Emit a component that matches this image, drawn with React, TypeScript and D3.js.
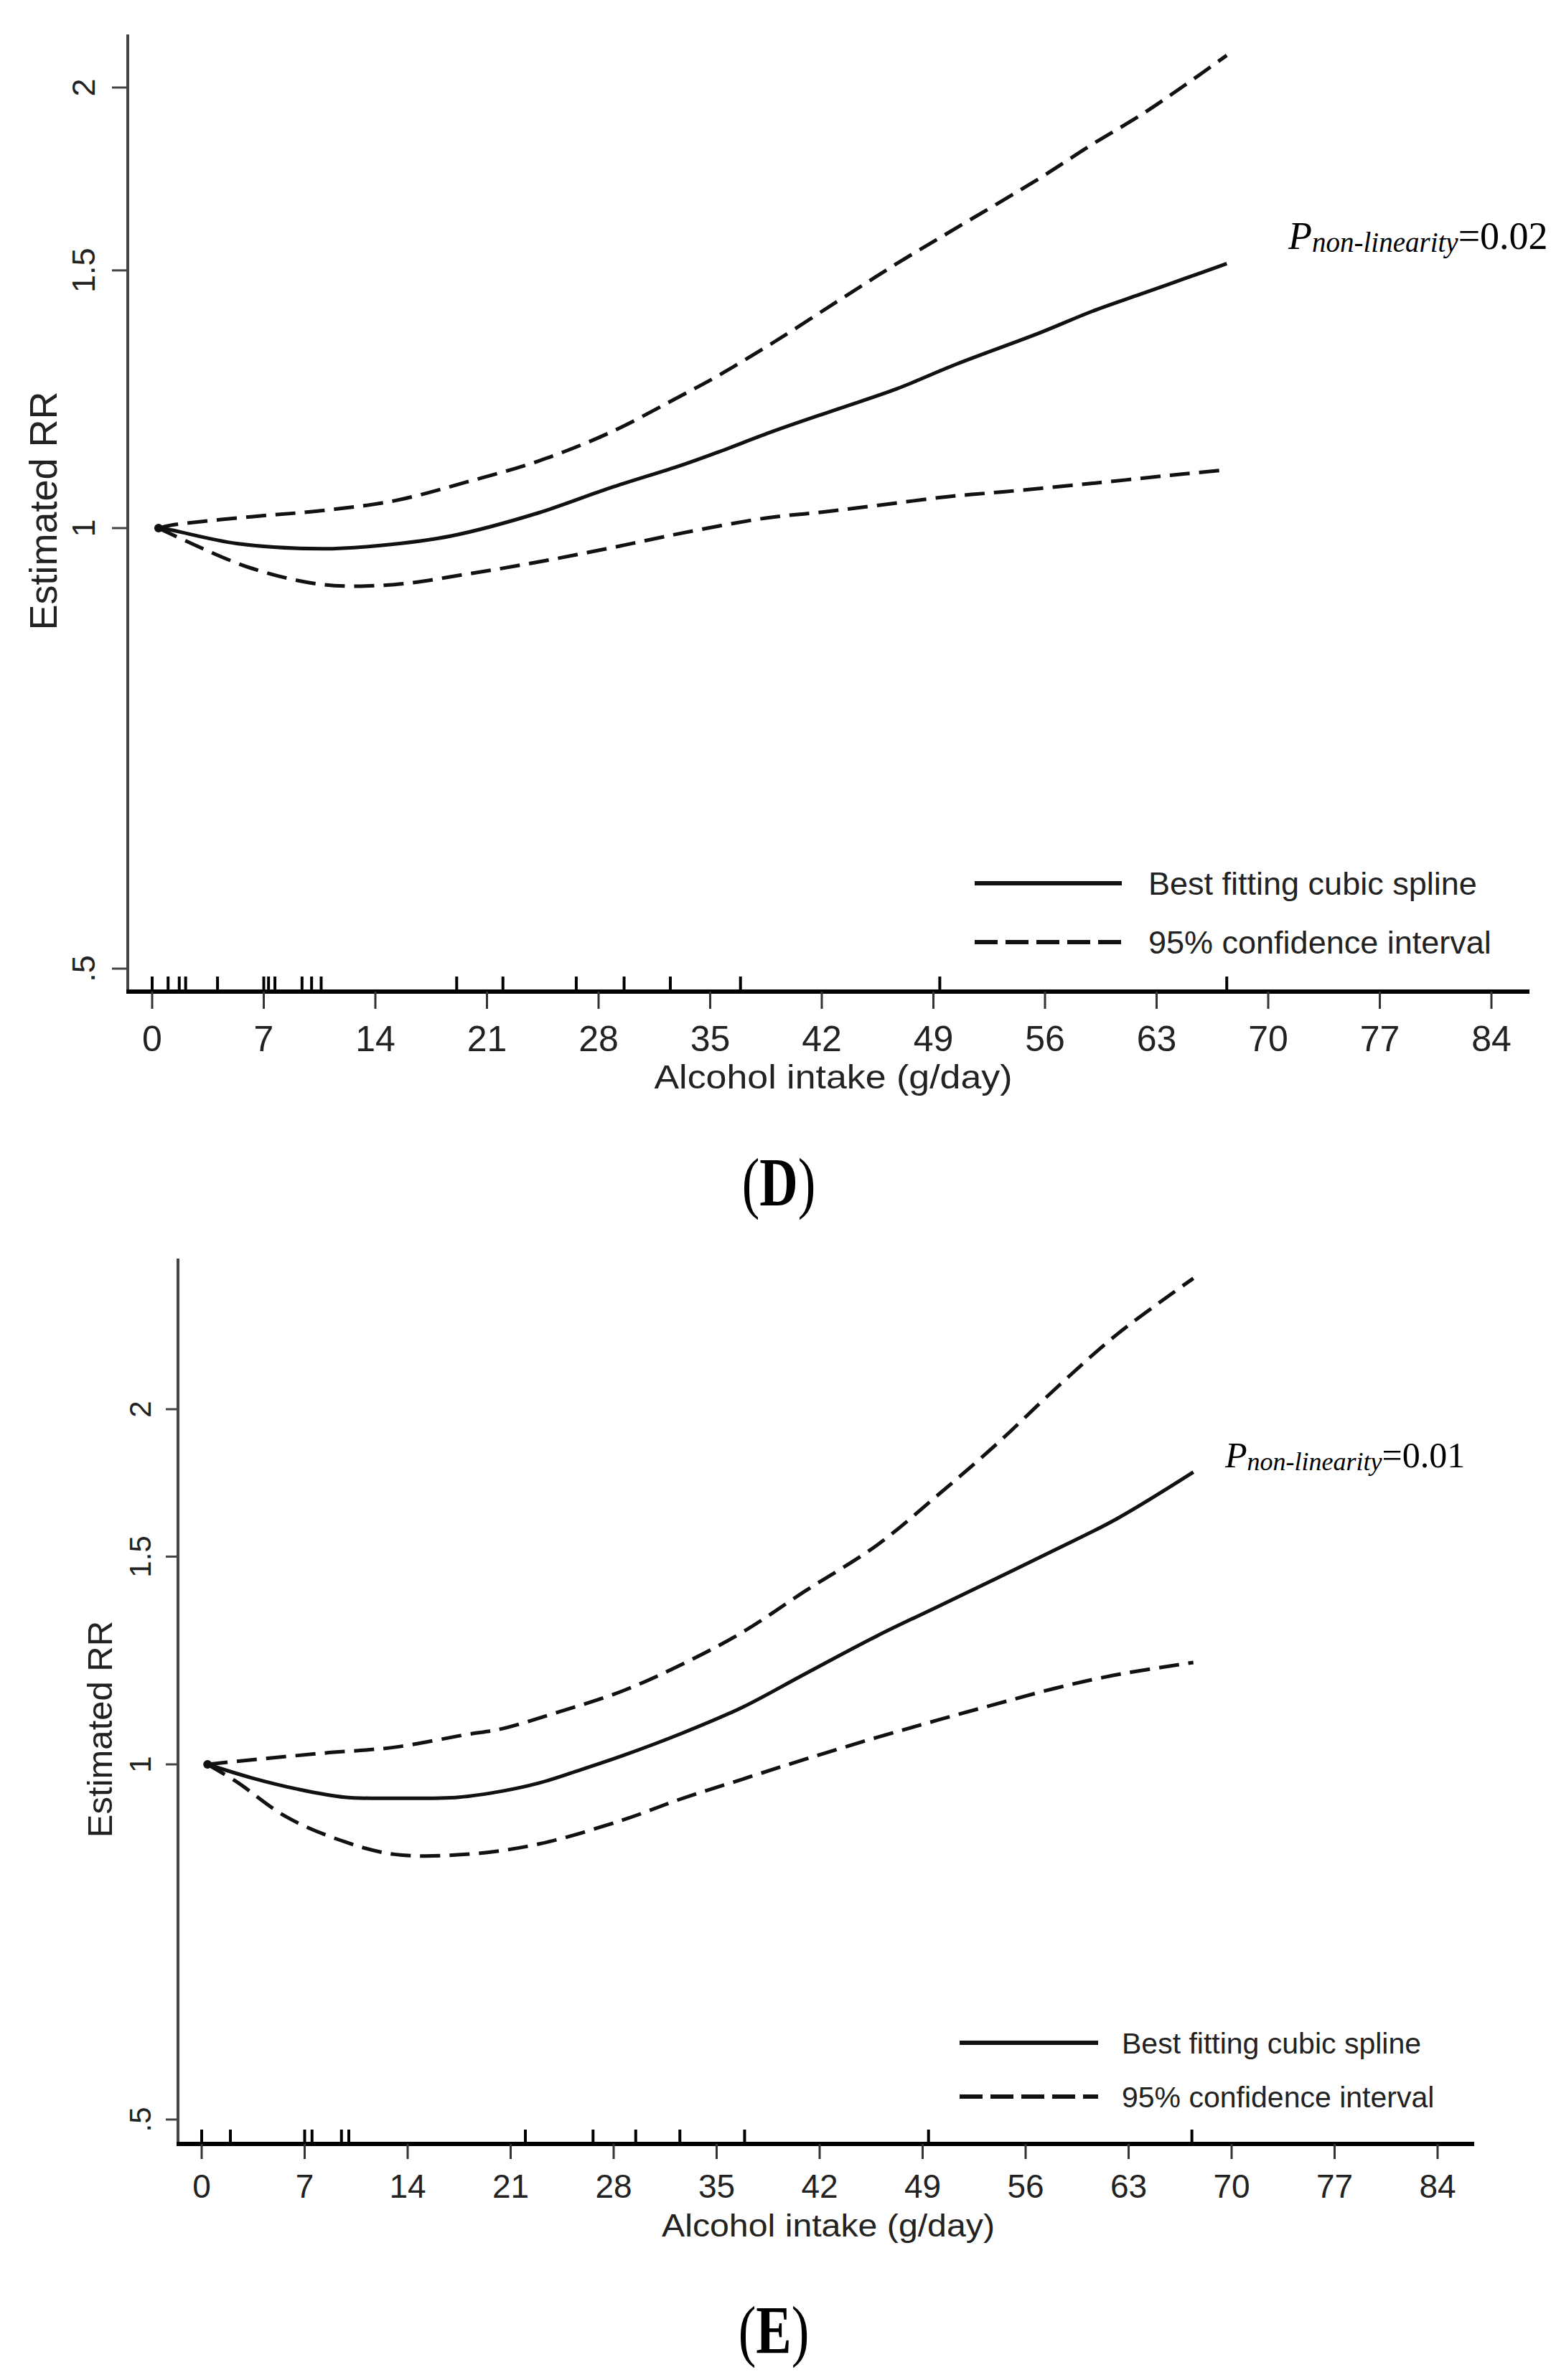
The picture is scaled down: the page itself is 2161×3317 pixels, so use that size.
import React from "react";
import * as d3 from "d3";

// ---------- data ----------
const xTicks = [0, 7, 14, 21, 28, 35, 42, 49, 56, 63, 70, 77, 84];
const yTicks = [0.5, 1, 1.5, 2];
const yTickLabels = [".5", "1", "1.5", "2"];

// Panel D
const dX = [0.4, 1, 5.3, 10.7, 14.3, 18.8, 24.2, 28.7, 33.2, 35.5, 39, 43, 46.7, 50.5, 55.7, 59, 62, 64.7, 67.4];
const dFit = [1, 0.998, 0.976, 0.968, 0.973, 0.988, 1.024, 1.065, 1.104, 1.127, 1.165, 1.206, 1.245, 1.295, 1.36, 1.407, 1.445, 1.48, 1.516];
const dUpX = [0.4, 1.3, 6.2, 10.7, 15.2, 19.7, 24.2, 28.7, 33.2, 35.5, 39, 43, 46.7, 50.5, 55.7, 59, 62, 64.7, 67.4];
const dUp = [1, 1.005, 1.018, 1.028, 1.044, 1.075, 1.111, 1.162, 1.232, 1.271, 1.34, 1.429, 1.516, 1.605, 1.735, 1.83, 1.915, 2.005, 2.104];
const dLoX = [0.4, 2.2, 6.2, 10.7, 15.2, 19.7, 24.2, 28.7, 33.2, 38.5, 42.2, 46, 50, 53.5, 59, 64.7, 67.4];
const dLo = [1, 0.979, 0.939, 0.915, 0.915, 0.93, 0.948, 0.969, 0.992, 1.016, 1.026, 1.038, 1.051, 1.059, 1.073, 1.089, 1.096];
const dRug = [0, 1, 1.7, 2.1, 4.1, 7.0, 7.3, 7.7, 9.4, 10, 10.6, 19.1, 22, 26.6, 29.6, 32.5, 36.9, 49.4, 67.4];

// Panel E
const eX = [0.4, 3.4, 6.5, 9.7, 13, 17.5, 20.4, 22.9, 25.5, 28.6, 32.6, 36.7, 41, 45.9, 50, 54, 58, 62.2, 67.4];
const eFit = [1, 0.974, 0.953, 0.938, 0.936, 0.938, 0.949, 0.964, 0.987, 1.017, 1.062, 1.117, 1.193, 1.285, 1.36, 1.437, 1.52, 1.615, 1.769];
const eUpX = [0.4, 2.4, 8.2, 13.1, 18, 20.4, 24, 28.6, 32.6, 36.7, 41, 45.9, 50, 54, 58, 62.2, 67.4];
const eUp = [1, 1.006, 1.022, 1.034, 1.06, 1.072, 1.105, 1.154, 1.215, 1.293, 1.402, 1.534, 1.69, 1.867, 2.08, 2.314, 2.582];
const eLoX = [0.4, 2.4, 5.8, 9.7, 13.1, 18, 22.9, 28.6, 32.6, 36.7, 41, 45.9, 50, 54, 58, 62, 67.4];
const eLo = [1, 0.966, 0.902, 0.86, 0.839, 0.839, 0.856, 0.897, 0.935, 0.971, 1.01, 1.054, 1.09, 1.125, 1.16, 1.19, 1.22];
const eRug = [0, 1.95, 7.0, 7.5, 9.5, 10.0, 22.0, 26.6, 29.5, 32.5, 36.9, 49.4, 67.3];

const legendLabels = ["Best fitting cubic spline", "95% confidence interval"];
const xTitle = "Alcohol intake (g/day)";
const yTitle = "Estimated RR";

const SANS = "'Liberation Sans', Arial, Helvetica, sans-serif";
const SERIF = "'Liberation Serif', 'Times New Roman', serif";

type PanelCfg = {
  xs: number[]; fit: number[]; upX: number[]; up: number[]; loX: number[]; lo: number[]; rug: number[];
  x0: number; x84: number; y05: number; y2: number;
  axisX: number; axisTop: number; axisY: number; axisRight: number;
  tickFont: number; yTickFont: number; yTickBase: number; yTickLen: number; xTickLen: number; rugLen: number;
  xLabelBase: number; titleBase: number; titleFont: number; titleX: number; titleLen: number;
  yTitleX: number; yTitleY: number; yTitleFont: number;
  legX1: number; legX2: number; legY1: number; legY2: number; legTextX: number; legFont: number;
  pX: number; pBase: number; pFont: number; pSubFont: number; pValue: string;
  letter: string; letterX: number; letterBase: number;
};

function Panel({ c }: { c: PanelCfg }) {
  const x = d3.scaleLinear().domain([0, 84]).range([c.x0, c.x84]);
  const y = d3.scaleLog().domain([0.5, 2]).range([c.y05, c.y2]);
  const line = d3
    .line<[number, number]>()
    .x((d) => x(d[0]))
    .y((d) => y(d[1]))
    .curve(d3.curveCatmullRom.alpha(0.5));
  const zip = (a: number[], b: number[]) => a.map((v, i) => [v, b[i]] as [number, number]);
  const dash = "28 13";
  const ink = "#111";
  return (
    <g>
      {/* y axis */}
      <line x1={c.axisX} x2={c.axisX} y1={c.axisTop} y2={c.axisY} stroke="#444" strokeWidth={4} />
      {yTicks.map((t, i) => (
        <g key={"yt" + i}>
          <line x1={c.axisX - c.yTickLen} x2={c.axisX} y1={y(t)} y2={y(t)} stroke="#444" strokeWidth={3} />
          <text
            transform={`translate(${c.yTickBase},${y(t)}) rotate(-90)`}
            textAnchor="middle"
            fontFamily={SANS}
            fontSize={c.yTickFont}
            fill="#222"
          >
            {yTickLabels[i]}
          </text>
        </g>
      ))}
      <text
        transform={`translate(${c.yTitleX},${c.yTitleY}) rotate(-90)`}
        textAnchor="middle"
        fontFamily={SANS}
        fontSize={c.yTitleFont}
        fill="#222"
      >
        {yTitle}
      </text>
      {/* x axis */}
      <line x1={c.axisX - 2} x2={c.axisRight} y1={c.axisY} y2={c.axisY} stroke="#000" strokeWidth={6} />
      {xTicks.map((t) => (
        <g key={"xt" + t}>
          <line x1={x(t)} x2={x(t)} y1={c.axisY} y2={c.axisY + c.xTickLen} stroke="#333" strokeWidth={3} />
          <text x={x(t)} y={c.xLabelBase} textAnchor="middle" fontFamily={SANS} fontSize={c.tickFont} fill="#222">
            {t}
          </text>
        </g>
      ))}
      {c.rug.map((r, i) => (
        <line key={"rug" + i} x1={x(r)} x2={x(r)} y1={c.axisY} y2={c.axisY - c.rugLen} stroke="#000" strokeWidth={4} />
      ))}
      <text
        x={c.titleX - c.titleLen / 2}
        y={c.titleBase}
        textLength={c.titleLen}
        lengthAdjust="spacingAndGlyphs"
        fontFamily={SANS}
        fontSize={c.titleFont}
        fill="#222"
      >
        {xTitle}
      </text>
      {/* curves */}
      <path d={line(zip(c.upX, c.up)) || ""} fill="none" stroke={ink} strokeWidth={5} strokeDasharray={dash} />
      <path d={line(zip(c.loX, c.lo)) || ""} fill="none" stroke={ink} strokeWidth={5} strokeDasharray={dash} />
      <path d={line(zip(c.xs, c.fit)) || ""} fill="none" stroke={ink} strokeWidth={5} />
      <circle cx={x(c.xs[0])} cy={y(1)} r={6} fill={ink} />
      {/* legend */}
      <line x1={c.legX1} x2={c.legX2} y1={c.legY1} y2={c.legY1} stroke={ink} strokeWidth={6} />
      <line x1={c.legX1} x2={c.legX2} y1={c.legY2} y2={c.legY2} stroke={ink} strokeWidth={6} strokeDasharray="32 11" />
      <text x={c.legTextX} y={c.legY1 + c.legFont * 0.36} fontFamily={SANS} fontSize={c.legFont} fill="#222">
        {legendLabels[0]}
      </text>
      <text x={c.legTextX} y={c.legY2 + c.legFont * 0.36} fontFamily={SANS} fontSize={c.legFont} fill="#222">
        {legendLabels[1]}
      </text>
      {/* p value */}
      <text x={c.pX} y={c.pBase} fontFamily={SERIF} fontSize={c.pFont} fill="#000">
        <tspan fontStyle="italic">P</tspan>
        <tspan fontStyle="italic" fontSize={c.pSubFont} dy={4}>
          non-linearity
        </tspan>
        <tspan dy={-4}>={c.pValue}</tspan>
      </text>
      {/* panel letter */}
      <text
        transform={`translate(${c.letterX},${c.letterBase}) scale(1,1.3)`}
        textAnchor="middle"
        fontFamily={SERIF}
        fontSize={74}
        fill="#000"
      >
        (<tspan fontWeight="bold">{c.letter}</tspan>)
      </text>
    </g>
  );
}

const panelD: PanelCfg = {
  xs: dX, fit: dFit, upX: dUpX, up: dUp, loX: dLoX, lo: dLo, rug: dRug,
  x0: 212, x84: 2078, y05: 1350, y2: 122,
  axisX: 178, axisTop: 48, axisY: 1382, axisRight: 2131,
  tickFont: 50, yTickFont: 45, yTickBase: 132, yTickLen: 22, xTickLen: 24, rugLen: 21,
  xLabelBase: 1465, titleBase: 1517, titleFont: 46, titleX: 1161, titleLen: 499,
  yTitleX: 79, yTitleY: 712, yTitleFont: 54,
  legX1: 1358, legX2: 1563, legY1: 1231, legY2: 1313, legTextX: 1600, legFont: 45,
  pX: 1795, pBase: 347, pFont: 54, pSubFont: 39, pValue: "0.02",
  letter: "D", letterX: 1085, letterBase: 1680,
};

const panelE: PanelCfg = {
  xs: eX, fit: eFit, upX: eUpX, up: eUp, loX: eLoX, lo: eLo, rug: eRug,
  x0: 281, x84: 2003, y05: 2954, y2: 1964,
  axisX: 248, axisTop: 1754, axisY: 2988, axisRight: 2054,
  tickFont: 46, yTickFont: 42, yTickBase: 210, yTickLen: 17, xTickLen: 21, rugLen: 20,
  xLabelBase: 3063, titleBase: 3117, titleFont: 44, titleX: 1154, titleLen: 464,
  yTitleX: 156, yTitleY: 2410, yTitleFont: 49,
  legX1: 1337, legX2: 1530, legY1: 2847, legY2: 2922, legTextX: 1563, legFont: 41,
  pX: 1707, pBase: 2045, pFont: 50, pSubFont: 36, pValue: "0.01",
  letter: "E", letterX: 1078, letterBase: 3280,
};

export default function App() {
  return (
    <svg
      width={2161}
      height={3317}
      viewBox="0 0 2161 3317"
      style={{ position: "absolute", left: 0, top: 0, display: "block", background: "#fff" }}
    >
      <rect x={0} y={0} width={2161} height={3317} fill="#fff" />
      <Panel c={panelD} />
      <Panel c={panelE} />
    </svg>
  );
}
